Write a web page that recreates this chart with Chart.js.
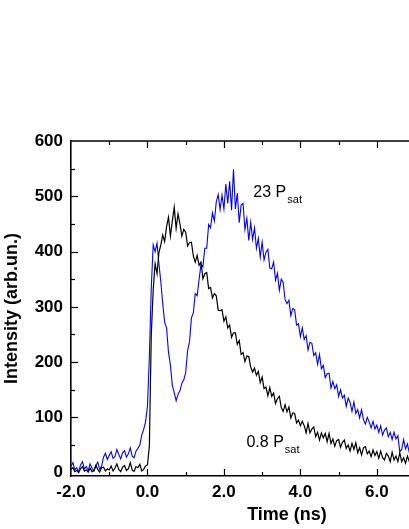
<!DOCTYPE html>
<html><head><meta charset="utf-8">
<script src="https://cdn.jsdelivr.net/npm/chart.js@4.4.1/dist/chart.umd.min.js"></script>
<style>
html,body{margin:0;padding:0;overflow:hidden;background:#fff;width:409px;height:529px}
#wrap{position:absolute;left:0;top:0;width:520px;height:529px}
</style></head><body><div id="wrap"><canvas id="c" width="520" height="529"></canvas></div>
<script>
// Time samples (ns)
const timeNs = [
-2,-1.95,-1.9,-1.85,-1.8,-1.75,-1.7,-1.65,-1.6,-1.55,-1.5,-1.45,-1.4,-1.35,-1.3,-1.25,-1.2,-1.15,-1.1,-1.05,
-1,-0.95,-0.9,-0.85,-0.8,-0.75,-0.7,-0.65,-0.6,-0.55,-0.5,-0.45,-0.4,-0.35,-0.3,-0.25,-0.2,-0.15,-0.1,-0.05,
0,0.05,0.1,0.15,0.2,0.25,0.3,0.35,0.4,0.45,0.5,0.55,0.6,0.65,0.7,0.75,0.8,0.85,0.9,0.95,
1,1.05,1.1,1.15,1.2,1.25,1.3,1.35,1.4,1.45,1.5,1.55,1.6,1.65,1.7,1.75,1.8,1.85,1.9,1.95,
2,2.05,2.1,2.15,2.2,2.25,2.3,2.35,2.4,2.45,2.5,2.55,2.6,2.65,2.7,2.75,2.8,2.85,2.9,2.95,
3,3.05,3.1,3.15,3.2,3.25,3.3,3.35,3.4,3.45,3.5,3.55,3.6,3.65,3.7,3.75,3.8,3.85,3.9,3.95,
4,4.05,4.1,4.15,4.2,4.25,4.3,4.35,4.4,4.45,4.5,4.55,4.6,4.65,4.7,4.75,4.8,4.85,4.9,4.95,
5,5.05,5.1,5.15,5.2,5.25,5.3,5.35,5.4,5.45,5.5,5.55,5.6,5.65,5.7,5.75,5.8,5.85,5.9,5.95,
6,6.05,6.1,6.15,6.2,6.25,6.3,6.35,6.4,6.45,6.5,6.55,6.6,6.65,6.7,6.75,6.8,6.85,6.9
];
// 0.8 Psat trace (black)
const intensityLow = [
6,9,2,4,0,7,11,3,5,1,8,2,4,13,6,1,9,10,3,7,
5,12,3,8,16,6,2,10,13,4,7,18,5,2,11,9,15,3,6,12,
14,48,250,330,378,360,398,412,430,418,445,462,428,455,480,442,468,450,428,440,
435,410,416,417,392,381,393,375,381,351,360,362,333,335,316,324,320,294,293,295,
274,282,262,267,245,253,253,232,239,214,217,201,211,210,191,182,189,176,183,163,
173,152,155,139,154,138,144,125,134,138,118,111,123,110,119,99,108,107,90,95,
85,93,85,72,89,72,79,83,65,73,59,72,63,71,56,71,53,61,48,58,
60,46,55,59,44,50,39,53,42,54,36,45,32,45,47,34,39,29,41,31,
38,26,39,27,23,35,30,20,37,23,30,20,36,20,27,17,30,20,27
];
// 23 Psat trace (blue)
const intensityHigh = [
12,18,5,9,2,14,20,7,11,4,16,8,3,13,19,6,12,28,35,24,
31,38,26,29,42,33,25,36,40,28,34,45,30,27,39,44,50,68,78,92,
120,210,335,412,400,415,378,345,305,272,262,218,195,158,145,130,142,148,162,168,
181,221,237,280,289,324,320,349,377,372,406,406,449,443,470,455,490,503,476,502,
477,522,487,527,475,549,477,506,452,484,487,440,460,420,453,422,443,406,424,390,
417,385,399,404,370,369,381,348,361,330,350,344,313,306,312,284,297,295,267,269,
246,262,241,248,222,236,234,212,217,196,214,188,194,172,179,180,153,165,152,159,
138,150,135,140,120,135,127,111,128,107,114,99,114,96,88,100,92,81,93,79,
86,73,85,68,77,81,65,73,60,73,61,67,38,42,60,43,52,36,46
];
const xMajorTicks = [-2,0,2,4,6,8];
const yMajorTicks = [0,100,200,300,400,500,600];
const seriesLabels = ['0.8 P', '23 P'];
const seriesSub = ['sat', 'sat'];

const annotPlugin = {
  id: 'annot',
  afterDatasetsDraw(chart) {
    const {ctx, scales:{x,y}} = chart;
    const spots = [{t:2.59, v:46}, {t:2.77, v:499}];
    ctx.save();
    ctx.fillStyle = '#000';
    ctx.textBaseline = 'alphabetic';
    spots.forEach((s,i) => {
      const px = x.getPixelForValue(s.t), py = y.getPixelForValue(s.v);
      ctx.font = '16px "Liberation Sans", Arial, sans-serif';
      ctx.fillText(seriesLabels[i], px, py);
      const w = ctx.measureText(seriesLabels[i]).width;
      ctx.font = '11px "Liberation Sans", Arial, sans-serif';
      ctx.fillText(seriesSub[i], px + w + 1, py + 6);
    });
    ctx.restore();
  }
};

const frameTicks = {
  id: 'frameTicks',
  afterDraw(chart) {
    const {ctx, chartArea:{left,right,top,bottom}, scales:{x,y}} = chart;
    ctx.save();
    ctx.strokeStyle = '#000';
    ctx.lineWidth = 1.6;
    ctx.beginPath(); ctx.moveTo(left - 0.8, top); ctx.lineTo(right, top); ctx.stroke();
    ctx.lineWidth = 1.2;
    x.ticks.forEach(tk => {
      const v = tk.value;
      if (!Number.isInteger(v) || v === x.min) return;
      const len = xMajorTicks.includes(v) ? 7 : 4;
      const px = Math.round(x.getPixelForValue(v)) + 0.5;
      ctx.beginPath();
      ctx.moveTo(px, bottom); ctx.lineTo(px, bottom - len);
      ctx.moveTo(px, top); ctx.lineTo(px, top + len);
      ctx.stroke();
    });
    y.ticks.forEach(tk => {
      const v = tk.value;
      if (v % 50 !== 0 || v <= 0 || v >= 600) return;
      const len = yMajorTicks.includes(v) ? 7 : 4;
      const py = Math.round(y.getPixelForValue(v)) + 0.5;
      ctx.beginPath(); ctx.moveTo(left, py); ctx.lineTo(left + len, py); ctx.stroke();
    });
    ctx.restore();
  }
};

const tickFont = {family: '"Liberation Sans", Arial, sans-serif', size: 17, weight: 'bold'};
const titleFont = {family: '"Liberation Sans", Arial, sans-serif', size: 18, weight: 'bold'};

new Chart(document.getElementById('c'), {
  type: 'line',
  data: {
    datasets: [
      {label: '0.8 Psat', data: timeNs.map((t,i) => ({x:t, y:intensityLow[i]})), borderColor: '#000000', borderWidth: 1.2, pointRadius: 0, tension: 0, fill: false},
      {label: '23 Psat', data: timeNs.map((t,i) => ({x:t, y:intensityHigh[i]})), borderColor: '#0000ff', borderWidth: 1.1, pointRadius: 0, tension: 0, fill: false}
    ]
  },
  options: {
    responsive: false,
    animation: false,
    devicePixelRatio: 1,
    layout: {padding: {top: 141, left: 0, right: 17, bottom: 0}},
    plugins: {legend: {display: false}, tooltip: {enabled: false}},
    scales: {
      x: {
        type: 'linear', min: -2, max: 9.3,
        ticks: {stepSize: 1, includeBounds: false, autoSkip: false, maxRotation: 0, color: '#000', font: tickFont, padding: 6,
          callback: v => xMajorTicks.includes(v) ? v.toFixed(1) : ''},
        grid: {display: false, drawTicks: false},
        border: {display: true, color: '#000', width: 1.6},
        title: {display: true, text: 'Time (ns)', color: '#000', font: titleFont, padding: {top: 0, bottom: 3}},
        afterFit: s => { s.height = 53; }
      },
      y: {
        type: 'linear', min: -6, max: 600,
        ticks: {stepSize: 50, includeBounds: false, autoSkip: false, color: '#000', font: tickFont, padding: 8,
          callback: v => yMajorTicks.includes(v) ? String(v) : ''},
        grid: {display: false, drawTicks: false},
        border: {display: true, color: '#000', width: 1.6},
        title: {display: true, text: 'Intensity (arb.un.)', color: '#000', font: titleFont, padding: {top: 1, bottom: 0}},
        afterFit: s => { s.width = 71; }
      }
    }
  },
  plugins: [annotPlugin, frameTicks]
});
</script></body></html>
